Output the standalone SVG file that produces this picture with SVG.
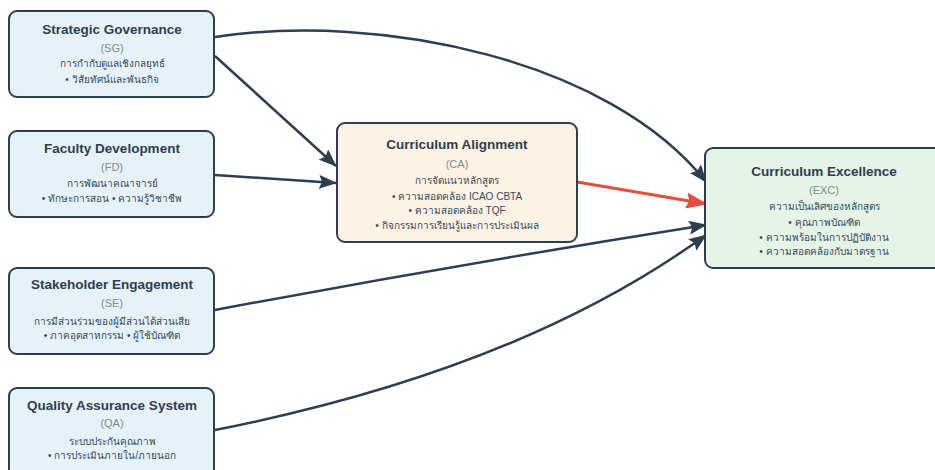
<svg xmlns="http://www.w3.org/2000/svg" width="935" height="470" viewBox="0 0 935 470">
<defs>
<style>
.box{stroke:#2c3e50;stroke-width:2}
.src{fill:#e6f2f8}
.ca{fill:#fdf3e4}
.exc{fill:#e6f4e7}
.t{font-family:"Liberation Sans",Arial,sans-serif;font-size:13.5px;font-weight:bold;fill:#2c3e50;text-anchor:middle}
.a{font-family:"Liberation Sans",Arial,sans-serif;font-size:11px;fill:#7f8c8d;text-anchor:middle}
.d{font-family:"Liberation Sans","DejaVu Sans","Noto Sans",sans-serif;font-size:10px;fill:#34495e;text-anchor:middle}
.e{fill:none;stroke:#2c3e50;stroke-width:2.5}
.r{fill:none;stroke:#e74c3c;stroke-width:3}
</style>
<marker id="ad" markerUnits="userSpaceOnUse" markerWidth="18" markerHeight="14" viewBox="0 0 18 14" refX="17" refY="7" orient="auto"><path d="M0,0 L18,7 L0,14 L3,7 Z" fill="#2c3e50"/></marker>
<marker id="ar" markerUnits="userSpaceOnUse" markerWidth="22" markerHeight="16" viewBox="0 0 22 16" refX="21" refY="8" orient="auto"><path d="M0,0 L22,8 L0,16 L3,8 Z" fill="#e74c3c"/></marker>
</defs>
<rect width="935" height="470" fill="#ffffff"/>
<g id="connectors">
<path class="e" d="M215,37 C380,12 610,60 706,182" marker-end="url(#ad)"/>
<path class="e" d="M215,56 L336,166" marker-end="url(#ad)"/>
<path class="e" d="M215,175 L336,183" marker-end="url(#ad)"/>
<path class="r" d="M577,182 L707,204" marker-end="url(#ar)"/>
<path class="e" d="M215,310 Q460,264 706,225" marker-end="url(#ad)"/>
<path class="e" d="M215,430 Q520,370 706,235" marker-end="url(#ad)"/>
</g>
<g id="SG">
<rect class="box src" x="9" y="11" width="205" height="86" rx="8"/>
<text class="t" x="112" y="34">Strategic Governance</text>
<text class="a" x="112" y="52">(SG)</text>
<text class="d" x="112" y="67">การกำกับดูแลเชิงกลยุทธ์</text>
<text class="d" x="112" y="83">• วิสัยทัศน์และพันธกิจ</text>
</g>
<g id="FD">
<rect class="box src" x="9" y="131" width="205" height="86" rx="8"/>
<text class="t" x="112" y="153">Faculty Development</text>
<text class="a" x="112" y="171">(FD)</text>
<text class="d" x="112" y="187">การพัฒนาคณาจารย์</text>
<text class="d" x="112" y="202">• ทักษะการสอน • ความรู้วิชาชีพ</text>
</g>
<g id="SE">
<rect class="box src" x="9" y="268" width="205" height="86" rx="8"/>
<text class="t" x="112" y="289">Stakeholder Engagement</text>
<text class="a" x="112" y="307">(SE)</text>
<text class="d" x="112" y="325">การมีส่วนร่วมของผู้มีส่วนได้ส่วนเสีย</text>
<text class="d" x="112" y="339">• ภาคอุตสาหกรรม • ผู้ใช้บัณฑิต</text>
</g>
<g id="QA">
<rect class="box src" x="9" y="388" width="205" height="90" rx="8"/>
<text class="t" x="112" y="410">Quality Assurance System</text>
<text class="a" x="112" y="427">(QA)</text>
<text class="d" x="112" y="445">ระบบประกันคุณภาพ</text>
<text class="d" x="112" y="459">• การประเมินภายใน/ภายนอก</text>
</g>
<g id="CA">
<rect class="box ca" x="337" y="123" width="240" height="119" rx="8"/>
<text class="t" x="457" y="149">Curriculum Alignment</text>
<text class="a" x="457" y="168">(CA)</text>
<text class="d" x="457" y="184">การจัดแนวหลักสูตร</text>
<text class="d" x="457" y="200">• ความสอดคล้อง ICAO CBTA</text>
<text class="d" x="457" y="214">• ความสอดคล้อง TQF</text>
<text class="d" x="457" y="229">• กิจกรรมการเรียนรู้และการประเมินผล</text>
</g>
<g id="EXC">
<rect class="box exc" x="705" y="148" width="238" height="120" rx="8"/>
<text class="t" x="824" y="176">Curriculum Excellence</text>
<text class="a" x="824" y="194">(EXC)</text>
<text class="d" x="824" y="210">ความเป็นเลิศของหลักสูตร</text>
<text class="d" x="824" y="226">• คุณภาพบัณฑิต</text>
<text class="d" x="824" y="241">• ความพร้อมในการปฏิบัติงาน</text>
<text class="d" x="824" y="255">• ความสอดคล้องกับมาตรฐาน</text>
</g>
</svg>
